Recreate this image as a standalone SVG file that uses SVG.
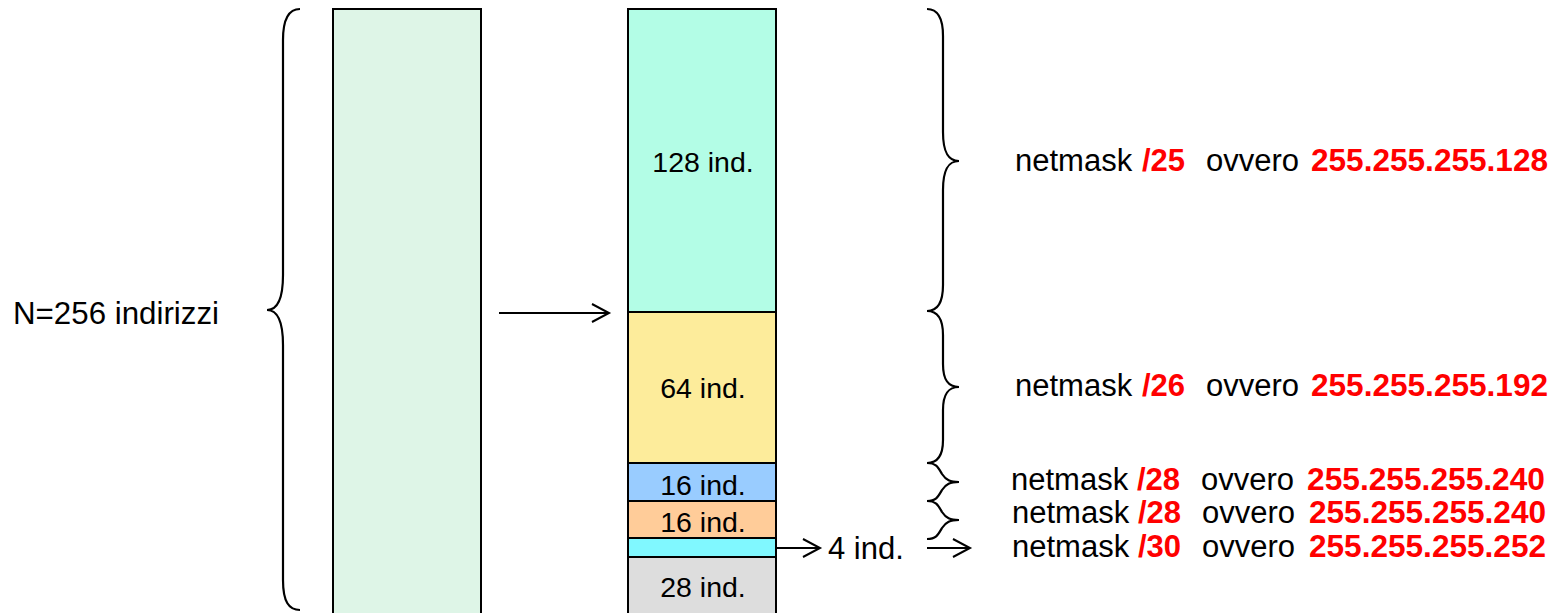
<svg xmlns="http://www.w3.org/2000/svg" width="1556" height="613" viewBox="0 0 1556 613">
<style>
.box{stroke:#000;stroke-width:2}
.br{fill:none;stroke:#000;stroke-width:2.2}
.ln{fill:none;stroke:#000;stroke-width:2}
.t{font-family:"Liberation Sans",Arial,sans-serif;fill:#000}
.bl{font-size:28.5px;text-anchor:middle}
.sl{font-size:31px}
.r{fill:#FF0000;font-weight:bold}
</style>
<defs>
<marker id="ah" markerUnits="userSpaceOnUse" markerWidth="22" markerHeight="22" viewBox="0 0 22 22" refX="19" refY="11" orient="auto">
<path d="M2,2 L19,11 L2,20" fill="none" stroke="#000" stroke-width="2"/>
</marker>
</defs>
<rect width="1556" height="613" fill="#fff"/>

<g id="left-block">
<rect class="box" x="333" y="9" width="148" height="610" fill="#DEF5E7"/>
</g>
<g id="left-brace">
<path class="br" d="M300,9 C289,9 283,18 283,40 L283,275 C283,298 278,310 267,310 C278,310 283,322 283,345 L283,580 C283,602 289,610 300,610"/>
<text class="t sl" x="13" y="324" textLength="206" lengthAdjust="spacingAndGlyphs">N=256 indirizzi</text>
</g>

<g id="seg-128">
<rect class="box" x="628" y="9" width="148" height="303" fill="#B3FDE6"/>
<text class="t bl" x="703" y="172">128 ind.</text>
</g>
<g id="seg-64">
<rect class="box" x="628" y="312" width="148" height="151" fill="#FDEC9B"/>
<text class="t bl" x="703" y="398">64 ind.</text>
</g>
<g id="seg-16a">
<rect class="box" x="628" y="463" width="148" height="38" fill="#99CCFF"/>
<text class="t bl" x="703" y="495">16 ind.</text>
</g>
<g id="seg-16b">
<rect class="box" x="628" y="501" width="148" height="37" fill="#FFCC99"/>
<text class="t bl" x="703" y="532">16 ind.</text>
</g>
<g id="seg-4">
<rect class="box" x="628" y="538" width="148" height="19" fill="#80F8FF"/>
</g>
<g id="seg-28">
<rect class="box" x="628" y="557" width="148" height="62" fill="#DDDDDD"/>
<text class="t bl" x="703" y="597">28 ind.</text>
</g>

<g id="label-4">
<text class="t sl" x="828" y="559">4 ind.</text>
</g>

<g id="connectors">
<line class="ln" x1="499" y1="313" x2="609" y2="313" marker-end="url(#ah)"/>
<line class="ln" x1="776" y1="548" x2="820" y2="548" marker-end="url(#ah)"/>
<line class="ln" x1="927" y1="548" x2="970" y2="548" marker-end="url(#ah)"/>
</g>

<g id="right-braces">
<path class="br" d="M927,9 C937,9 943,17 943,36 L943,132 C943,152 948,161 959,161 C948,161 943,170 943,190 L943,285 C943,304 937,311 927,311"/>
<path class="br" d="M927,311 C937,311 943,318 943,335 L943,364 C943,380 948,387 959,387 C948,387 943,394 943,410 L943,440 C943,456 937,463 927,463"/>
<path class="br" d="M927,463 C936,463 938,467 942,474 C946,480 950,482 959,482 C950,482 946,484 942,490 C938,497 936,501 927,501"/>
<path class="br" d="M927,501 C936,501 938,505 942,512 C946,518 950,520 959,520 C950,520 946,522 942,528 C938,535 936,539 927,539"/>
</g>

<g id="netmask-25">
<text class="t sl" y="171"><tspan x="1015">netmask</tspan><tspan class="r" x="1142">/25</tspan><tspan x="1206">ovvero</tspan><tspan class="r" x="1311" textLength="237" lengthAdjust="spacingAndGlyphs">255.255.255.128</tspan></text>
</g>
<g id="netmask-26">
<text class="t sl" y="396"><tspan x="1015">netmask</tspan><tspan class="r" x="1142">/26</tspan><tspan x="1206">ovvero</tspan><tspan class="r" x="1311" textLength="237" lengthAdjust="spacingAndGlyphs">255.255.255.192</tspan></text>
</g>
<g id="netmask-28a">
<text class="t sl" y="490"><tspan x="1011">netmask</tspan><tspan class="r" x="1137">/28</tspan><tspan x="1201">ovvero</tspan><tspan class="r" x="1307" textLength="238" lengthAdjust="spacingAndGlyphs">255.255.255.240</tspan></text>
</g>
<g id="netmask-28b">
<text class="t sl" y="523"><tspan x="1012">netmask</tspan><tspan class="r" x="1138">/28</tspan><tspan x="1202">ovvero</tspan><tspan class="r" x="1309" textLength="237" lengthAdjust="spacingAndGlyphs">255.255.255.240</tspan></text>
</g>
<g id="netmask-30">
<text class="t sl" y="557"><tspan x="1012">netmask</tspan><tspan class="r" x="1138">/30</tspan><tspan x="1202">ovvero</tspan><tspan class="r" x="1309" textLength="237" lengthAdjust="spacingAndGlyphs">255.255.255.252</tspan></text>
</g>
</svg>
